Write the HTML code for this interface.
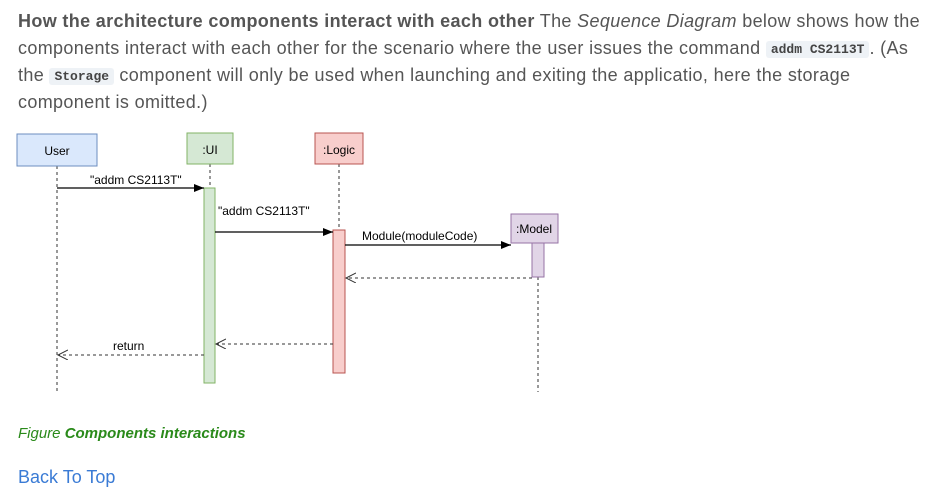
<!DOCTYPE html>
<html><head><style>
body{margin:0;width:952px;height:496px;background:#fff;overflow:hidden;font-family:"Liberation Sans",sans-serif;}
.p{position:absolute;left:18px;top:8px;width:940px;font-size:18px;line-height:27px;color:#555;letter-spacing:0.35px;white-space:nowrap}
code{font-family:"Liberation Mono",monospace;font-size:13px;line-height:13px;font-weight:bold;background:#eef2f6;padding:2px 5px;border-radius:3px;color:#444;letter-spacing:0;display:inline-block;vertical-align:1px}
.cap{position:absolute;left:18px;top:425px;font-size:15px;color:#2a8a1a;font-style:italic}
.top{position:absolute;left:18px;top:467px;font-size:18px;color:#3a7bd5}
</style></head><body>
<div class="p"><b>How the architecture components interact with each other</b> The <i>Sequence Diagram</i> below shows how the<br>components interact with each other for the scenario where the user issues the command <code>addm CS2113T</code>. (As<br>the <code>Storage</code> component will only be used when launching and exiting the applicatio, here the storage<br>component is omitted.)</div>
<svg width="952" height="496" style="position:absolute;left:0;top:0" font-family="Liberation Sans, sans-serif" font-size="12">
<defs>
<marker id="f" markerWidth="10" markerHeight="8" refX="10" refY="4" orient="auto" markerUnits="userSpaceOnUse"><path d="M0,0L10,4L0,8z" fill="#000"/></marker>
<marker id="o" markerWidth="12" markerHeight="12" refX="10" refY="5" orient="auto" markerUnits="userSpaceOnUse"><path d="M0,0L10,5L0,10" fill="none" stroke="#333"/></marker>
</defs>
<g stroke="#333" stroke-dasharray="3,3">
<line x1="57" y1="166" x2="57" y2="392"/>
<line x1="210" y1="164" x2="210" y2="188"/>
<line x1="339" y1="164" x2="339" y2="230"/>
<line x1="538" y1="277" x2="538" y2="392"/>
</g>
<rect x="17" y="134" width="80" height="32" fill="#dae8fc" stroke="#6c8ebf"/>
<text x="57" y="155" text-anchor="middle">User</text>
<rect x="187" y="133" width="46" height="31" fill="#d5e8d4" stroke="#82b366"/>
<text x="210" y="154" text-anchor="middle">:UI</text>
<rect x="315" y="133" width="48" height="31" fill="#f8cecc" stroke="#b85450"/>
<text x="339" y="154" text-anchor="middle">:Logic</text>
<rect x="511" y="214" width="47" height="29" fill="#e1d5e7" stroke="#9673a6"/>
<text x="534" y="233" text-anchor="middle">:Model</text>
<rect x="204" y="188" width="11" height="195" fill="#d5e8d4" stroke="#82b366"/>
<rect x="333" y="230" width="12" height="143" fill="#f8cecc" stroke="#b85450"/>
<rect x="532" y="243" width="12" height="34" fill="#e1d5e7" stroke="#9673a6"/>
<g stroke="#000" stroke-width="1.3">
<line x1="57" y1="188" x2="204" y2="188" marker-end="url(#f)"/>
<line x1="215" y1="232" x2="333" y2="232" marker-end="url(#f)"/>
<line x1="345" y1="245" x2="511" y2="245" marker-end="url(#f)"/>
</g>
<g stroke="#333" stroke-dasharray="3,3">
<line x1="532" y1="278" x2="346" y2="278" marker-end="url(#o)"/>
<line x1="333" y1="344" x2="216" y2="344" marker-end="url(#o)"/>
<line x1="204" y1="355" x2="58" y2="355" marker-end="url(#o)"/>
</g>
<text x="90" y="184">"addm CS2113T"</text>
<text x="218" y="215">"addm CS2113T"</text>
<text x="362" y="240">Module(moduleCode)</text>
<text x="113" y="350">return</text>
</svg>
<div class="cap">Figure <b>Components interactions</b></div>
<div class="top">Back To Top</div>
</body></html>
